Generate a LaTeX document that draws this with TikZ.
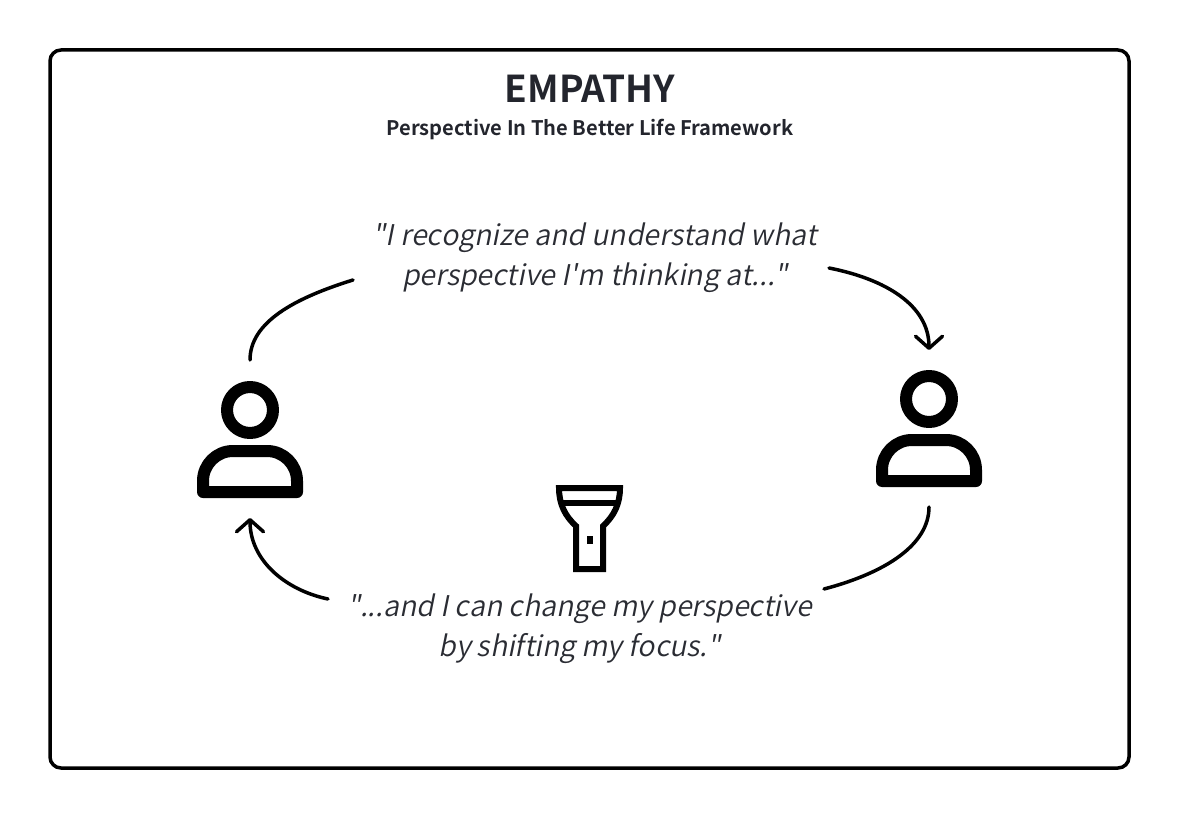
\documentclass[tikz,border=0pt]{standalone}
\usepackage{fontspec}
\setmainfont{Noto Sans CJK JP}[UprightFont=* Bold,BoldFont=* Bold]
\newfontfamily\quotefont{Noto Sans CJK JP DemiLight}[AutoFakeSlant=0.2,Kerning=Off,Ligatures=NoCommon]
\usetikzlibrary{arrows.meta}
\definecolor{ink}{HTML}{23252D}
\definecolor{qink}{HTML}{2A2C33}
\tikzset{
  frameline/.style={draw=black,line width=3.5pt,rounded corners=11pt},
  icon/.style={draw=black,line width=12pt,line join=round},
  torch/.style={draw=black,line width=6pt,line join=miter},
  conn/.style={draw=black,line width=3.5pt,line cap=round},
  tipconn/.style={conn,-{Straight Barb[length=12pt,width=27pt,line width=3.5pt,round]}},
  quote/.style={align=center,font=\quotefont\itshape\fontsize{28.5}{40.5}\selectfont,text=qink,inner sep=0pt},
}
\begin{document}
\begin{tikzpicture}[x=1pt,y=-1pt]
\useasboundingbox (0,0) rectangle (1180,818);
\fill[white] (0,0) rectangle (1180,818);
\draw[frameline] (50,50) rectangle (1129,768);
\node[font=\fontsize{37}{40}\selectfont,text=ink,inner sep=0pt] (title) at (590,89) {EMPATHY};
\node[font=\fontsize{20.1}{26}\selectfont,text=ink,inner sep=0pt] (sub) at (590,130) {Perspective In The Better Life Framework};
\node[quote] (q1) at (595,257.5) {"I recognize and understand what\\perspective I'm thinking at..."};
\node[quote] (q2) at (579.5,628.5) {"...and I can change my perspective\\by shifting my focus."};
% left person
\draw[icon] (250,410) circle (23);
\draw[icon] (203,492) -- (203,481) arc[start angle=180,end angle=270,radius=30] -- (267,451) arc[start angle=270,end angle=360,radius=30] -- (297,492) -- cycle;
% right person
\draw[icon] (929,399) circle (23);
\draw[icon] (882,481) -- (882,470) arc[start angle=180,end angle=270,radius=30] -- (946,440) arc[start angle=270,end angle=360,radius=30] -- (976,481) -- cycle;
% flashlight
\draw[torch] (559,488) -- (620,488) .. controls (620,504) and (614,516) .. (603,526) -- (603,569) -- (576,569) -- (576,526) .. controls (565,516) and (559,504) .. (559,488) -- cycle;
\draw[line width=6pt] (561,503) -- (618,503);
\fill[black] (587,536) rectangle (593,544);
% connectors
\coordinate (a1) at (250,360);
\coordinate (a2) at (353,280);
\coordinate (b1) at (829,268);
\coordinate (b2) at (929,350);
\coordinate (c1) at (929,507);
\coordinate (c2) at (824,589);
\coordinate (d1) at (328,599);
\coordinate (d2) at (250,518);
\draw[conn] (a1) .. controls (250,322) and (295,298) .. (a2);
\draw[tipconn] (b1) .. controls (885,279) and (929,305) .. (b2);
\draw[conn] (c1) .. controls (929,545) and (885,573) .. (c2);
\draw[tipconn] (d1) .. controls (285,590) and (250,560) .. (d2);
\end{tikzpicture}
\end{document}
